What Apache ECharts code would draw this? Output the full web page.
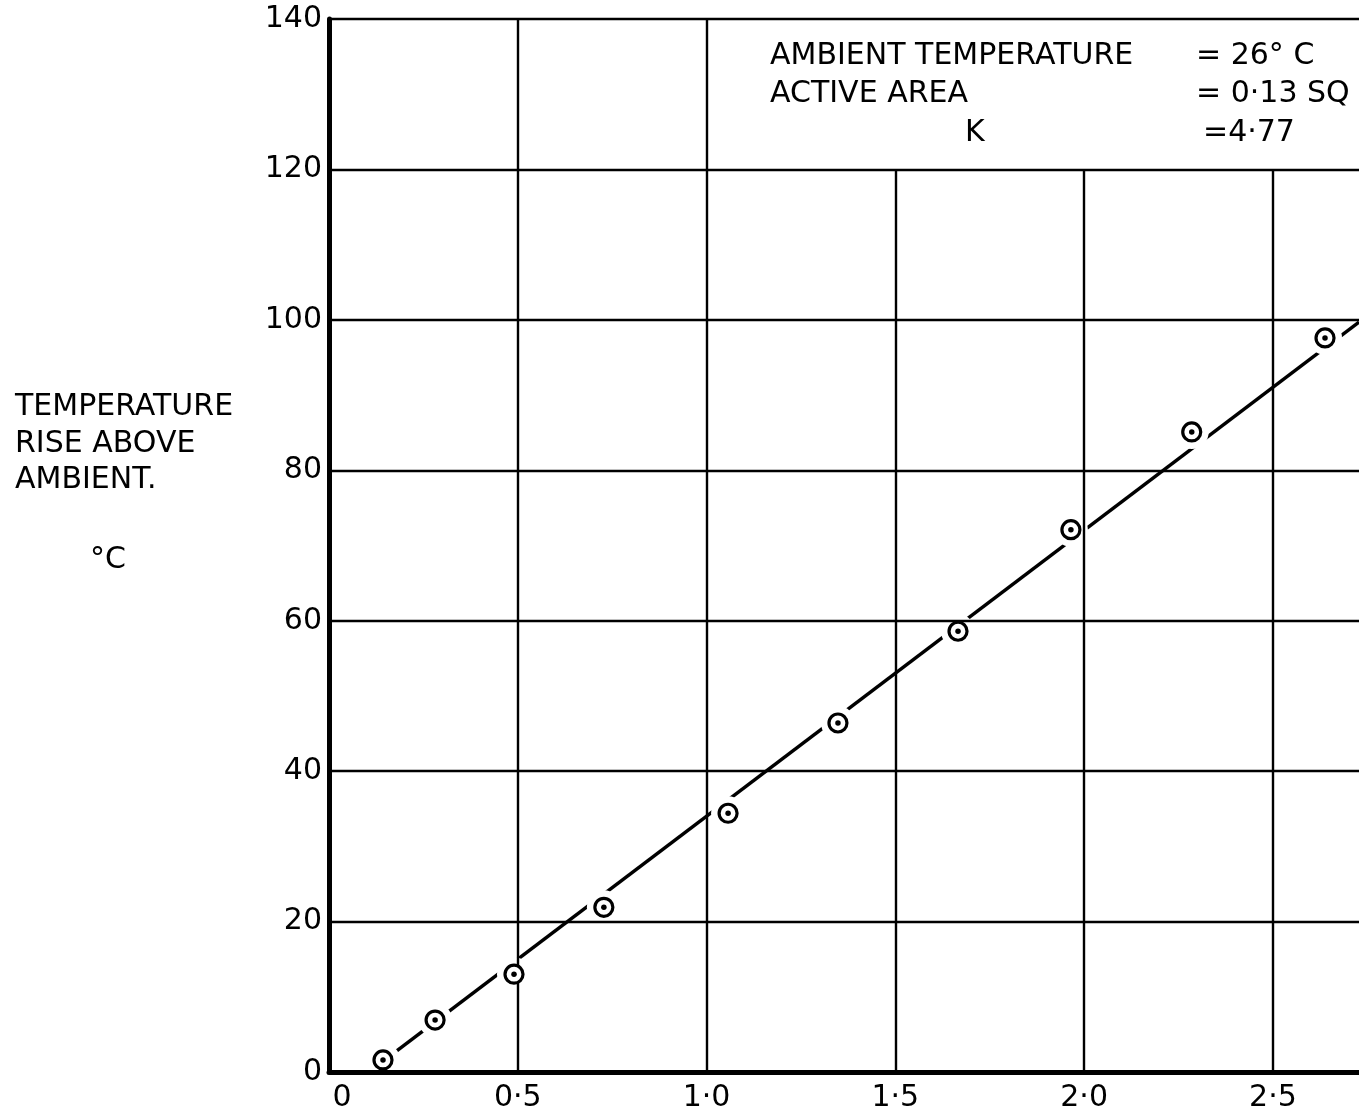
<!DOCTYPE html>
<html>
<head>
<meta charset="utf-8">
<script src="https://cdn.jsdelivr.net/npm/echarts@6/dist/echarts.min.js"></script>
<style>
html,body{margin:0;padding:0;background:#fff;}
#chart{width:1359px;height:1113px;}
</style>
</head>
<body>
<div id="chart"></div>
<script>
// ---- data ----
const rateX = [0.143, 0.281, 0.490, 0.728, 1.057, 1.348, 1.666, 1.965, 2.285, 2.638];
const riseY = [1.6, 6.9, 13.0, 21.9, 34.4, 46.4, 58.6, 72.1, 85.1, 97.6];
const fitX = [0.14, 2.728];
const fitY = [1.3, 99.7];
const xMin = 0, xMax = 2.728, xStep = 0.5;
const yMin = 0, yMax = 140, yStep = 20;
const vGridX = [0.5, 1.0, 1.5, 2.0, 2.5];
const vGridTop = [140, 140, 120, 120, 120];
const yTitleLines = ['TEMPERATURE', 'RISE ABOVE', 'AMBIENT.'];
const yUnit = '°C';
const noteLabels = ['AMBIENT TEMPERATURE', 'ACTIVE AREA', 'K'];
const noteValues = ['= 26° C', '= 0·13 SQ', '=4·77'];

const FONT = '"DejaVu Sans", sans-serif';
const FS = 30;

const pts = rateX.map((x, i) => [x, riseY[i]]);
const fit = fitX.map((x, i) => [x, fitY[i]]);

const chart = echarts.init(document.getElementById('chart'), null, {renderer: 'canvas'});

const graphics = [];
const titleTops = [392, 429, 465];
yTitleLines.forEach((t, i) => {
  graphics.push({type: 'text', left: 15, top: titleTops[i],
    style: {text: t, font: FS + 'px ' + FONT, fill: '#000'}});
});
graphics.push({type: 'text', left: 90, top: 545, style: {text: yUnit, font: FS + 'px ' + FONT, fill: '#000'}});
const noteTops = [41, 79, 118];
const noteLefts = [770, 770, 965];
const valLefts = [1196, 1196, 1203];
noteLabels.forEach((t, i) => {
  graphics.push({type: 'text', left: noteLefts[i], top: noteTops[i],
    style: {text: t, font: FS + 'px ' + FONT, fill: '#000'}});
  graphics.push({type: 'text', left: valLefts[i], top: noteTops[i],
    style: {text: noteValues[i], font: FS + 'px ' + FONT, fill: '#000'}});
});

chart.setOption({
  animation: false,
  backgroundColor: '#fff',
  grid: {left: 329, right: 0, top: 19, bottom: 41, containLabel: false},
  xAxis: {
    type: 'value', min: xMin, max: xMax, interval: xStep, z: 10,
    axisLine: {show: true, lineStyle: {color: '#000', width: 5}},
    axisTick: {show: false},
    splitLine: {show: false},
    axisLabel: {
      margin: 11, showMaxLabel: false, color: '#000',
      formatter: v => v === 0 ? '{z|0}' : '{n|' + v.toFixed(1).replace('.', '·') + '}',
      rich: {
        z: {fontFamily: FONT, fontSize: FS, color: '#000', padding: [0, 0, 0, 26]},
        n: {fontFamily: FONT, fontSize: FS, color: '#000'}
      }
    }
  },
  yAxis: {
    type: 'value', min: yMin, max: yMax, interval: yStep, z: 10,
    axisLine: {show: true, lineStyle: {color: '#000', width: 5}},
    axisTick: {show: false},
    splitLine: {show: true, lineStyle: {color: '#000', width: 2.4}},
    axisLabel: {margin: 7, color: '#000', fontFamily: FONT, fontSize: FS}
  },
  graphic: graphics,
  series: [
    {
      type: 'line', data: fit, showSymbol: false, z: 1, silent: true,
      lineStyle: {color: '#000', width: 3.5}
    },
    {
      type: 'scatter', data: pts, symbol: 'circle', symbolSize: 34, z: 2, silent: true,
      itemStyle: {color: '#fff', borderWidth: 0, opacity: 1}
    },
    {
      type: 'scatter', data: [], z: 5, silent: true,
      markLine: {
        silent: true, symbol: 'none', label: {show: false},
        lineStyle: {color: '#000', width: 2.4, type: 'solid', opacity: 1},
        data: vGridX.map((x, i) => [{coord: [x, yMin]}, {coord: [x, vGridTop[i]]}])
      }
    },
    {
      type: 'scatter', data: pts, symbol: 'circle', symbolSize: 18, z: 20, silent: true,
      itemStyle: {color: '#fff', borderColor: '#000', borderWidth: 3.2, opacity: 1}
    },
    {
      type: 'scatter', data: pts, symbol: 'circle', symbolSize: 5.5, z: 21, silent: true,
      itemStyle: {color: '#000', opacity: 1}
    }
  ]
});
</script>
</body>
</html>
